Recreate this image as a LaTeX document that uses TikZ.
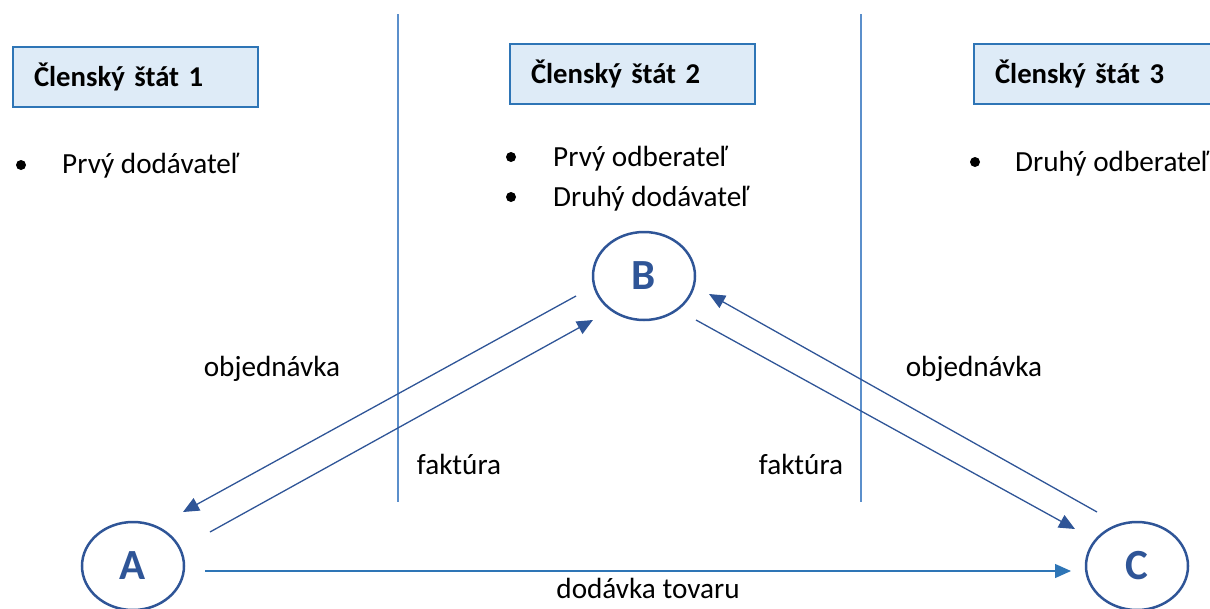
\documentclass[tikz,border=0pt]{standalone}
\usepackage{fontspec}
\setmainfont{Carlito}
\usetikzlibrary{calc,shapes.geometric,arrows.meta}
\definecolor{darkblue}{HTML}{2F5597}
\definecolor{midblue}{HTML}{2E75B6}
\definecolor{sepblue}{HTML}{5B8FCB}
\definecolor{boxfill}{HTML}{DEEBF7}

\begin{document}
\begin{tikzpicture}[x=1pt,y=-1pt,
    statebox/.style={draw=midblue,line width=2pt,fill=boxfill,anchor=north west,minimum height=60pt,text width=203pt,inner xsep=21pt,inner ysep=0pt,align=left,font=\fontsize{28.7}{34}\selectfont\bfseries},
    party/.style={ellipse,draw=darkblue,line width=2.5pt,minimum width=102pt,minimum height=88pt,inner sep=0pt,text=darkblue,font=\fontsize{43}{43}\selectfont\bfseries},
    txt/.style={inner sep=0pt,font=\fontsize{29.2}{34}\selectfont},
    dot/.style={circle,fill=black,inner sep=0pt,minimum size=10pt},
    flow/.style={draw=darkblue,line width=1.3pt,-{Triangle[length=16pt,width=14pt,fill=darkblue]}},
    sepline/.style={draw=sepblue,line width=1.5pt}]
       \useasboundingbox (0,0) rectangle (1210,608);
       % borders between states
       \draw[sepline] (398,14) -- (398,502);
       \draw[sepline] (861,14) -- (861,502);
       % state boxes
       \node[statebox] (s1) at (12,46) {Členský štát 1};
       \node[statebox] (s2) at (509,43) {Členský štát 2};
       \node[statebox] (s3) at (973,43) {Členský štát 3};
       % roles
       \node[dot] (d1) at (21,165) {};
       \node[txt,anchor=base west] (r1) at (62,173) {Prvý dodávateľ};
       \node[dot] (d2) at (511,157) {};
       \node[txt,anchor=base west] (r2) at (553,166) {Prvý odberateľ};
       \node[dot] (d3) at (511,197) {};
       \node[txt,anchor=base west] (r3) at (553,206) {Druhý dodávateľ};
       \node[dot] (d4) at (975,162) {};
       \node[txt,anchor=base west] (r4) at (1015,171) {Druhý odberateľ};
       % parties
       \node[party] (A) at (133,566) {A};
       \node[party] (B) at (644,276) {B};
       \node[party] (C) at (1137,566) {C};
       % flows
       \draw[flow] ($(B)+(-68,20)$) -- ($(A)+(50,-54)$);
       \draw[flow] ($(A)+(77,-34)$) -- ($(B)+(-51,44)$);
       \draw[flow] ($(C)+(-40,-54)$) -- ($(B)+(65,18)$);
       \draw[flow] ($(B)+(52,44)$) -- ($(C)+(-62,-37)$);
       \draw[flow,draw=midblue,-{Triangle[length=16pt,width=14pt,fill=midblue]}] ($(A)+(72,5)$) -- ($(C)+(-66,5)$);
       \node[txt,anchor=base] (o1) at (272,376) {objednávka};
       \node[txt,anchor=base] (f1) at (459,474) {faktúra};
       \node[txt,anchor=base] (f2) at (801,474) {faktúra};
       \node[txt,anchor=base] (o2) at (974,376) {objednávka};
       \node[txt,anchor=base] (dt) at (648,598) {dodávka tovaru};
     \end{tikzpicture}
\end{document}
